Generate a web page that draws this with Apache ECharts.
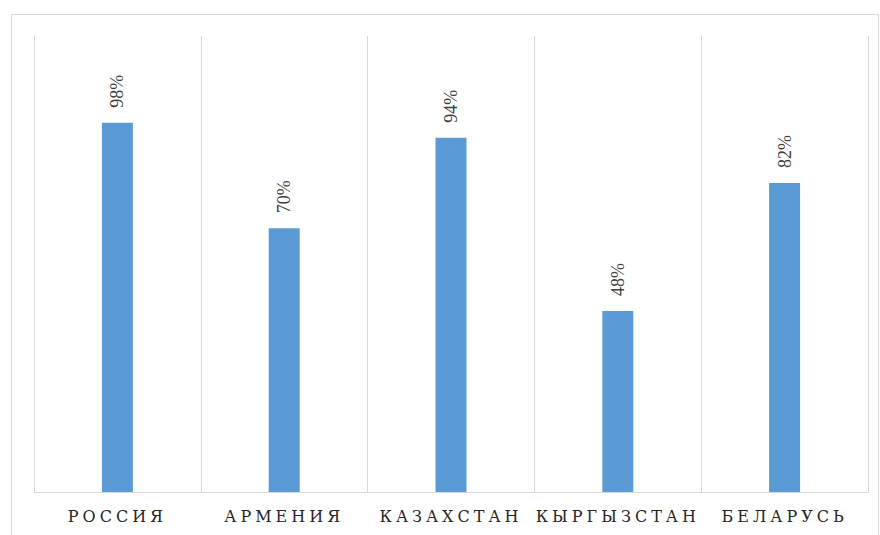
<!DOCTYPE html>
<html><head><meta charset="utf-8">
<script src="https://cdn.jsdelivr.net/npm/echarts@6/dist/echarts.min.js"></script>
<style>
html,body{margin:0;padding:0;background:#fff;}
#c{width:880px;height:535px;}
#c text[style*="Tinos"]{letter-spacing:4px;}
</style></head>
<body><div id="c"></div>
<script>
const categories = ['РОССИЯ', 'АРМЕНИЯ', 'КАЗАХСТАН', 'КЫРГЫЗСТАН', 'БЕЛАРУСЬ'];
const values = [98, 70, 94, 48, 82];

const chart = echarts.init(document.getElementById('c'), null, {renderer: 'svg'});
chart.setOption({
  animation: false,
  backgroundColor: '#fff',
  graphic: [{
    type: 'rect', left: 9, top: 12,
    shape: {width: 867, height: 540},
    style: {fill: 'none', stroke: '#d9d9d9', lineWidth: 1}
  }],
  grid: {left: 34, right: 12, top: 36, bottom: 43, containLabel: false},
  xAxis: {
    type: 'category', data: categories,
    axisLine: {show: true, lineStyle: {color: '#d9d9d9', width: 1}},
    axisTick: {show: false},
    splitLine: {show: true, lineStyle: {color: '#d9d9d9', width: 1}},
    axisLabel: {color: '#262626', fontSize: 16, fontFamily: 'DejaVu Serif, Tinos', margin: 16, interval: 0}
  },
  yAxis: {
    type: 'value', min: 0, max: 121,
    show: false, splitLine: {show: false}
  },
  series: [{
    type: 'bar', data: values, barWidth: 31,
    itemStyle: {color: '#5b9bd5'},
    label: {
      show: true, position: 'top', rotate: 90, distance: 15,
      align: 'left', verticalAlign: 'middle',
      formatter: p => p.value + '%',
      color: '#404040', fontSize: 18, fontFamily: 'Liberation Serif, serif'
    }
  }]
});
</script></body></html>
